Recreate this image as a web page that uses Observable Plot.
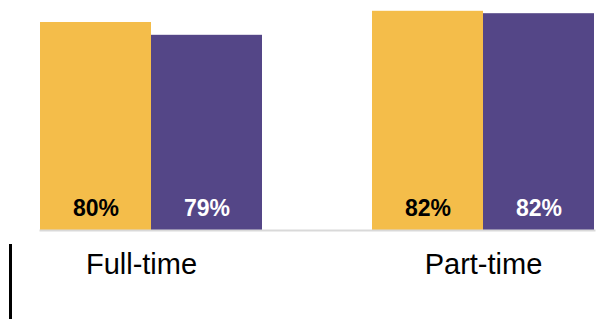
<!DOCTYPE html>
<html><head><meta charset="utf-8">
<script src="https://cdn.jsdelivr.net/npm/d3@7"></script>
<script src="https://cdn.jsdelivr.net/npm/@observablehq/plot@0.6"></script>
<style>
html,body{margin:0;padding:0;background:#fff;}
#wrap{position:relative;width:604px;height:319px;overflow:hidden;}
#mark{position:absolute;left:9px;top:244px;width:3px;height:75px;background:#000;}
</style></head><body>
<div id="wrap"><div id="chart"></div><div id="mark"></div></div>
<script>
const categories = ["Full-time", "Part-time"];
const series = ["Series 1", "Series 2"];
const series1Values = [80.4, 81.8];
const series2Values = [78.8, 81.5];
const yDomain = [54.4, 83.15];
const colors = ["#F4BD4A", "#544687"];

const data = categories.flatMap((c, i) => [
  {cat: c, s: series[0], v: series1Values[i]},
  {cat: c, s: series[1], v: series2Values[i]}
]);
const fmt = d => Math.round(d.v) + "%";

const chart = Plot.plot({
  width: 604, height: 319,
  marginLeft: 39, marginRight: 9, marginTop: 0, marginBottom: 89,
  style: {fontFamily: "'Liberation Sans', Arial, sans-serif", background: "#fff", color: "#000"},
  fx: {domain: categories, paddingInner: 0.33, paddingOuter: 0, label: null},
  x: {domain: series, padding: 0, axis: null},
  y: {domain: yDomain, axis: null},
  color: {domain: series, range: colors},
  marks: [
    Plot.barY(data, {fx: "cat", x: "s", y1: yDomain[0], y2: "v", fill: "s"}),
    Plot.frame({anchor: "bottom", stroke: "#d9d9d9", strokeWidth: 2, facet: "super"}),
    Plot.text(data.filter(d => d.s === series[0]), {fx: "cat", x: "s", y: yDomain[0], text: fmt, fill: "#000", fontWeight: "bold", fontSize: 23, lineAnchor: "bottom", dy: -15}),
    Plot.text(data.filter(d => d.s === series[1]), {fx: "cat", x: "s", y: yDomain[0], text: fmt, fill: "#fff", fontWeight: "bold", fontSize: 23, lineAnchor: "bottom", dy: -15}),
    Plot.axisFx({ticks: [categories[0]], anchor: "bottom", tickSize: 0, tickPadding: 23, fontSize: 29, label: null, dx: -10}),
    Plot.axisFx({ticks: [categories[1]], anchor: "bottom", tickSize: 0, tickPadding: 23, fontSize: 29, label: null})
  ]
});
document.getElementById("chart").appendChild(chart);
</script>
</body></html>
